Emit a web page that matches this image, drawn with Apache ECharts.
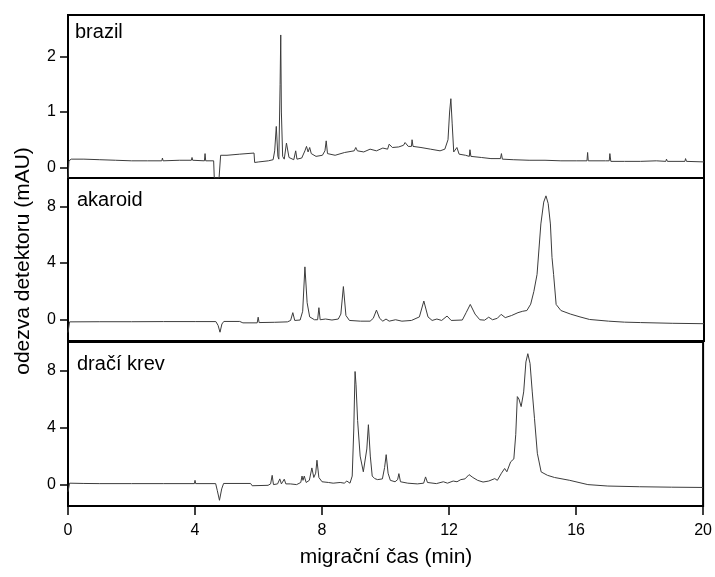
<!DOCTYPE html>
<html>
<head>
<meta charset="utf-8">
<title>elektroferogramy</title>
<script src="https://cdn.jsdelivr.net/npm/echarts@6/dist/echarts.min.js"></script>
<style>
html, body { margin: 0; padding: 0; background: #fff; }
#cn { width: 715px; height: 577px; }
</style>
</head>
<body>
<div id="cn"></div>
<script>
'use strict';

// [migracni cas (min), odezva (mAU)]
const BRAZIL = [
	[0, -0.19], [0.03, 0.12], [0.1, 0.15], [0.5, 0.15], [1.0, 0.14], [1.5, 0.13], [2.0, 0.12], [2.5, 0.12],
	[2.95, 0.12], [2.97, 0.17], [2.99, 0.12], [3.5, 0.13], [3.88, 0.13], [3.9, 0.18], [3.92, 0.13], [4.29, 0.12],
	[4.31, 0.25], [4.33, 0.12], [4.58, 0.12], [4.6, -0.19], [4.75, -0.19], [4.8, 0.22], [5.0, 0.22], [5.4, 0.24],
	[5.85, 0.26], [5.87, 0.09], [6.0, 0.1], [6.3, 0.12], [6.45, 0.14], [6.5, 0.3], [6.55, 0.74], [6.6, 0.2],
	[6.63, 0.15], [6.67, 1.5], [6.69, 2.39], [6.71, 1.0], [6.75, 0.2], [6.8, 0.15], [6.87, 0.44], [6.95, 0.18],
	[7.1, 0.14], [7.16, 0.3], [7.2, 0.15], [7.35, 0.17], [7.45, 0.3], [7.5, 0.38], [7.55, 0.28], [7.6, 0.36],
	[7.65, 0.25], [7.8, 0.2], [8.0, 0.22], [8.08, 0.3], [8.12, 0.48], [8.16, 0.25], [8.4, 0.22], [8.7, 0.27],
	[8.9, 0.29], [9.0, 0.3], [9.05, 0.36], [9.1, 0.3], [9.3, 0.28], [9.5, 0.33], [9.7, 0.3], [9.9, 0.35],
	[10.05, 0.33], [10.1, 0.42], [10.2, 0.36], [10.4, 0.37], [10.55, 0.4], [10.6, 0.45], [10.7, 0.38], [10.8, 0.38],
	[10.82, 0.5], [10.85, 0.38], [11.1, 0.36], [11.4, 0.33], [11.7, 0.3], [11.85, 0.33], [11.95, 0.5], [12.0, 1.0],
	[12.04, 1.24], [12.08, 0.8], [12.13, 0.28], [12.18, 0.25], [12.23, 0.36], [12.3, 0.24], [12.5, 0.22], [12.62, 0.2],
	[12.64, 0.32], [12.67, 0.2], [13.0, 0.18], [13.3, 0.16], [13.6, 0.16], [13.63, 0.25], [13.66, 0.15], [14.0, 0.14],
	[14.5, 0.13], [15.0, 0.13], [15.5, 0.12], [16.0, 0.12], [16.32, 0.12], [16.34, 0.27], [16.36, 0.12], [16.9, 0.12],
	[17.02, 0.12], [17.04, 0.25], [17.07, 0.11], [17.5, 0.11], [18.0, 0.11], [18.5, 0.12], [18.8, 0.11], [18.82, 0.15],
	[18.85, 0.11], [19.4, 0.11], [19.42, 0.16], [19.45, 0.11], [20.0, 0.1]
];

const AKAROID = [
	[0, -0.9], [0.05, -0.15], [1.0, -0.14], [2.0, -0.14], [3.0, -0.13], [4.0, -0.13], [4.65, -0.13], [4.72, -0.4],
	[4.78, -0.88], [4.84, -0.3], [4.9, -0.12], [5.4, -0.12], [5.5, -0.22], [5.95, -0.22], [5.98, 0.18], [6.01, -0.2],
	[6.5, -0.18], [6.9, -0.15], [7.0, -0.05], [7.07, 0.5], [7.13, -0.05], [7.3, -0.02], [7.38, 0.6], [7.45, 3.73],
	[7.52, 1.2], [7.6, 0.2], [7.75, 0.0], [7.85, 0.0], [7.89, 0.85], [7.93, 0.0], [8.1, 0.05], [8.3, -0.02],
	[8.5, 0.05], [8.58, 0.4], [8.66, 2.34], [8.74, 0.3], [8.85, -0.05], [9.2, -0.1], [9.5, -0.1], [9.6, 0.1],
	[9.7, 0.68], [9.8, 0.1], [9.9, -0.1], [10.0, 0.05], [10.1, -0.1], [10.3, 0.0], [10.5, -0.1], [10.8, -0.05],
	[11.05, 0.2], [11.19, 1.32], [11.32, 0.2], [11.45, -0.05], [11.6, 0.05], [11.75, -0.05], [11.92, 0.26], [12.05, -0.05],
	[12.4, -0.02], [12.52, 0.5], [12.65, 1.08], [12.8, 0.4], [12.95, 0.0], [13.1, -0.03], [13.23, 0.18], [13.35, 0.0],
	[13.5, 0.1], [13.62, 0.38], [13.75, 0.15], [13.95, 0.3], [14.15, 0.5], [14.3, 0.6], [14.43, 0.65], [14.55, 1.1],
	[14.65, 2.0], [14.75, 3.2], [14.87, 6.76], [14.96, 8.3], [15.03, 8.74], [15.1, 8.2], [15.17, 6.76], [15.22, 4.4],
	[15.27, 3.2], [15.35, 1.08], [15.5, 0.65], [15.8, 0.4], [16.1, 0.2], [16.4, 0.02], [17.0, -0.1], [17.5, -0.17],
	[18.0, -0.2], [19.0, -0.25], [20.0, -0.28]
];

const DRACI_KREV = [
	[0, -0.5], [0.05, 0.1], [0.5, 0.08], [1.0, 0.07], [2.0, 0.07], [3.0, 0.07], [3.98, 0.07], [4.0, 0.3],
	[4.02, 0.07], [4.65, 0.07], [4.7, -0.4], [4.77, -1.1], [4.84, -0.3], [4.9, 0.08], [5.75, 0.08], [5.8, -0.08],
	[6.3, -0.05], [6.38, 0.05], [6.43, 0.65], [6.47, 0.0], [6.6, 0.05], [6.67, 0.4], [6.72, 0.05], [6.78, 0.1],
	[6.81, 0.38], [6.86, 0.05], [7.0, 0.05], [7.2, 0.0], [7.33, 0.15], [7.37, 0.6], [7.4, 0.3], [7.44, 0.6],
	[7.5, 0.15], [7.6, 0.3], [7.68, 1.17], [7.74, 0.5], [7.8, 0.8], [7.84, 1.71], [7.9, 0.5], [8.0, 0.2],
	[8.2, 0.15], [8.35, 0.1], [8.57, 0.15], [8.7, 0.1], [8.78, 0.25], [8.88, 0.1], [8.95, 0.6], [9.0, 3.9],
	[9.02, 6.0], [9.04, 7.93], [9.07, 7.0], [9.12, 4.5], [9.2, 2.0], [9.3, 0.9], [9.36, 0.9], [9.41, 2.5],
	[9.46, 4.2], [9.52, 2.0], [9.58, 0.6], [9.66, 0.42], [9.75, 0.35], [9.9, 0.4], [9.97, 1.2], [10.02, 2.1],
	[10.08, 0.8], [10.15, 0.3], [10.3, 0.2], [10.38, 0.35], [10.42, 0.77], [10.47, 0.2], [10.7, 0.1], [11.0, 0.05],
	[11.2, 0.1], [11.26, 0.54], [11.32, 0.15], [11.6, 0.07], [11.82, 0.2], [11.95, 0.1], [12.13, 0.25], [12.25, 0.2],
	[12.37, 0.35], [12.5, 0.4], [12.63, 0.7], [12.75, 0.5], [12.9, 0.3], [13.07, 0.18], [13.25, 0.25], [13.44, 0.42],
	[13.52, 0.3], [13.65, 0.8], [13.75, 1.13], [13.82, 0.9], [13.94, 1.6], [14.04, 1.8], [14.1, 3.5], [14.15, 6.17],
	[14.2, 6.0], [14.27, 5.47], [14.35, 6.5], [14.42, 8.6], [14.48, 9.18], [14.55, 8.5], [14.62, 6.5], [14.69, 4.65],
	[14.78, 2.2], [14.9, 0.89], [15.1, 0.65], [15.32, 0.5], [15.8, 0.3], [16.37, 0.0], [17.0, -0.1], [18.0, -0.15],
	[19.0, -0.18], [20.0, -0.2]
];

const PANEL_NAMES = ['brazil', 'akaroid', 'dračí krev'];
const X_TICKS = [0, 4, 8, 12, 16, 20];
const Y_TICKS_BRAZIL = [0, 1, 2];
const Y_TICKS_AKAROID = [0, 4, 8];
const Y_TICKS_DRACI = [0, 4, 8];

const FONT = 'Liberation Sans, Arial, sans-serif';
const LINE_COLOR = '#3c3c3c';

// panel frames in px: [top, height]
const PANELS = [[15, 163], [178, 163], [342, 164]];
const Y_RANGES = [[-0.19, 2.75], [-1.5, 10], [-1.5, 10]];
const Y_TICKS = [Y_TICKS_BRAZIL, Y_TICKS_AKAROID, Y_TICKS_DRACI];
const TRACES = [BRAZIL, AKAROID, DRACI_KREV];
const LABEL_TOPS = [22, 190, 354];

const chart = echarts.init(document.getElementById('cn'), null, { renderer: 'canvas' });

const grids = PANELS.map(p => ({
	left: 68,
	right: 11,
	top: p[0],
	height: p[1],
	show: true,
	borderColor: '#000',
	borderWidth: 2,
	backgroundColor: 'transparent'
}));

const xAxes = PANELS.map((p, i) => {
	const isBottom = i === PANELS.length - 1;
	return {
		type: 'value',
		gridIndex: i,
		min: 0,
		max: 20,
		interval: 4,
		show: isBottom,
		axisLine: { show: true, onZero: false, lineStyle: { color: '#000', width: 2 } },
		axisTick: { show: isBottom, length: 9, lineStyle: { color: '#000', width: 1.5 }, customValues: X_TICKS },
		axisLabel: { show: isBottom, fontSize: 16, fontFamily: FONT, color: '#000', margin: 17, customValues: X_TICKS },
		splitLine: { show: false }
	};
});

const yAxes = PANELS.map((p, i) => ({
	type: 'value',
	gridIndex: i,
	min: Y_RANGES[i][0],
	max: Y_RANGES[i][1],
	axisLine: { show: true, onZero: false, lineStyle: { color: '#000', width: 2 } },
	axisTick: { show: true, length: 8, lineStyle: { color: '#000', width: 1.5 }, customValues: Y_TICKS[i] },
	axisLabel: { fontSize: 16, fontFamily: FONT, color: '#000', margin: 12, customValues: Y_TICKS[i] },
	splitLine: { show: false }
}));

const series = TRACES.map((trace, i) => ({
	type: 'line',
	xAxisIndex: i,
	yAxisIndex: i,
	data: trace,
	showSymbol: false,
	symbol: 'none',
	lineStyle: { color: LINE_COLOR, width: 1 },
	silent: true
}));

// panel names + axis titles
const texts = PANEL_NAMES.map((name, i) => ({
	type: 'text',
	left: i === 0 ? 75 : 77,
	top: LABEL_TOPS[i],
	style: { text: name, fontSize: 20, fontFamily: FONT, fill: '#000' }
}));

texts.push({
	type: 'text',
	x: 23,
	y: 261,
	rotation: Math.PI / 2,
	style: {
		text: 'odezva detektoru (mAU)',
		fontSize: 21,
		fontFamily: FONT,
		fill: '#000',
		align: 'center',
		verticalAlign: 'middle'
	}
});

texts.push({
	type: 'text',
	x: 386,
	y: 557,
	style: {
		text: 'migrační čas (min)',
		fontSize: 21,
		fontFamily: FONT,
		fill: '#000',
		align: 'center',
		verticalAlign: 'middle'
	}
});

chart.setOption({
	animation: false,
	backgroundColor: '#fff',
	grid: grids,
	xAxis: xAxes,
	yAxis: yAxes,
	series: series,
	graphic: texts
});
</script>
</body>
</html>
